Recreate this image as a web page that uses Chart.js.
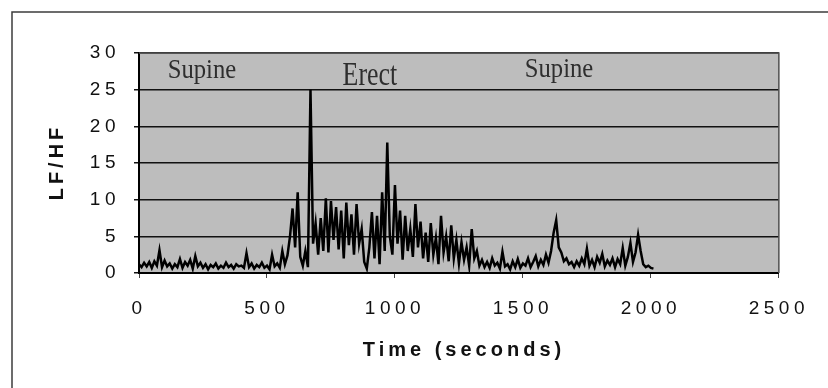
<!DOCTYPE html>
<html>
<head>
<meta charset="utf-8">
<title>LF/HF</title>
<script src="https://cdn.jsdelivr.net/npm/chart.js@4.4.1/dist/chart.umd.min.js"></script>
<style>
    html, body { margin: 0; padding: 0; background: #fff; }
    #wrap { position: relative; width: 828px; height: 388px; }
</style>
</head>
<body>
<div id="wrap"><canvas id="lfhfChart"></canvas></div>
<script>
// Thoi gian (giay) va ty so LF/HF
const timeSec = [
    0, 10, 20, 30, 40, 50, 60, 70, 80, 90,
    100, 110, 120, 130, 140, 150, 160, 170, 180, 190,
    200, 210, 220, 230, 240, 250, 260, 270, 280, 290,
    300, 310, 320, 330, 340, 350, 360, 370, 380, 390,
    400, 410, 420, 430, 440, 450, 460, 470, 480, 490,
    500, 510, 520, 530, 540, 550, 560, 570, 580, 590,
    600, 610, 620, 630, 640, 650, 660, 670, 680, 690,
    700, 710, 720, 730, 740, 750, 760, 770, 780, 790,
    800, 810, 820, 830, 840, 850, 860, 870, 880, 890,
    900, 910, 920, 930, 940, 950, 960, 970, 980, 990,
    1000, 1010, 1020, 1030, 1040, 1050, 1060, 1070, 1080, 1090,
    1100, 1110, 1120, 1130, 1140, 1150, 1160, 1170, 1180, 1190,
    1200, 1210, 1220, 1230, 1240, 1250, 1260, 1270, 1280, 1290,
    1300, 1310, 1320, 1330, 1340, 1350, 1360, 1370, 1380, 1390,
    1400, 1410, 1420, 1430, 1440, 1450, 1460, 1470, 1480, 1490,
    1500, 1510, 1520, 1530, 1540, 1550, 1560, 1570, 1580, 1590,
    1600, 1610, 1620, 1630, 1640, 1650, 1660, 1670, 1680, 1690,
    1700, 1710, 1720, 1730, 1740, 1750, 1760, 1770, 1780, 1790,
    1800, 1810, 1820, 1830, 1840, 1850, 1860, 1870, 1880, 1890,
    1900, 1910, 1920, 1930, 1940, 1950, 1960, 1970, 1980, 1990,
    2000, 2010
];

const lfhfRatio = [
    1.2, 0.8, 1.4, 0.9, 1.5, 0.7, 1.6, 1.0, 3.1, 0.8,
    1.7, 0.9, 1.3, 0.6, 1.2, 0.8, 1.9, 0.7, 1.5, 1.0,
    1.8, 0.6, 2.3, 0.9, 1.4, 0.7, 1.2, 0.5, 1.1, 0.8,
    1.3, 0.6, 1.0, 0.7, 1.4, 0.8, 1.1, 0.6, 1.2, 0.9,
    1.0, 0.7, 2.7, 0.8, 1.3, 0.6, 1.1, 0.8, 1.4, 0.7,
    1.0, 0.5, 2.5, 0.9, 1.3, 0.7, 3.0, 1.2, 2.4, 5.0,
    8.8, 3.5, 11.0, 2.2, 1.0, 3.0, 0.8, 25.0, 4.0, 6.8,
    2.5, 7.5, 3.0, 10.2, 2.8, 9.8, 4.5, 9.0, 3.2, 8.5,
    2.0, 9.6, 3.8, 8.0, 2.5, 9.4, 4.0, 6.0, 1.5, 0.6,
    3.5, 8.3, 2.0, 7.8, 1.2, 11.0, 3.0, 17.8, 5.0, 2.5,
    12.0, 4.0, 8.5, 1.8, 7.8, 3.0, 6.0, 2.2, 9.4, 3.5,
    7.0, 2.0, 5.5, 1.5, 6.8, 2.5, 4.8, 1.2, 7.8, 2.8,
    5.0, 1.6, 6.5, 2.0, 4.5, 1.3, 4.2, 1.8, 3.5, 1.0,
    6.0, 2.0, 3.0, 1.0, 1.8, 0.8, 1.5, 0.7, 2.0, 1.0,
    1.4, 0.6, 2.9, 0.9, 1.2, 0.5, 1.6, 0.8, 1.9, 0.7,
    1.3, 1.0, 2.0, 0.8, 1.5, 2.3, 0.9, 1.8, 1.1, 2.5,
    1.4, 3.0, 5.5, 7.2, 3.5, 2.8, 1.6, 2.0, 1.2, 1.5,
    0.8, 1.6, 1.0, 2.0, 1.2, 3.3, 1.0, 1.8, 0.8, 2.2,
    1.4, 2.6, 0.9, 1.7, 1.1, 2.0, 0.8, 1.9, 1.2, 3.4,
    1.0, 2.2, 4.1, 1.5, 2.8, 5.2, 3.0, 1.2, 0.8, 1.0,
    0.7, 0.6
];

// Nhan cac giai doan tu the
const phaseNames = ['Supine', 'Erect', 'Supine'];

const xTicks = [0, 500, 1000, 1500, 2000, 2500];
const yTicks = [0, 5, 10, 15, 20, 25, 30];

document.addEventListener("DOMContentLoaded", function () {
    const points = timeSec.map(function (t, i) {
        return { x: t, y: lfhfRatio[i] };
    });

    const SPACING = '4.5px';

    // Nen xam cua vung do thi, khung ngoai, tieu de truc va nhan giai doan
    const decorPlugin = {
        id: 'decor',
        // canvas bi reset khi doi kich thuoc nen dat lai letterSpacing moi lan
        beforeUpdate: function (chart) {
            chart.ctx.letterSpacing = SPACING;
        },
        beforeLayout: function (chart) {
            chart.ctx.letterSpacing = SPACING;
        },
        beforeDraw: function (chart) {
            const ctx = chart.ctx;
            const a = chart.chartArea;
            ctx.letterSpacing = SPACING;
            ctx.save();
            ctx.fillStyle = '#bdbdbd';
            ctx.fillRect(a.left, a.top, a.right - a.left, a.bottom - a.top);
            ctx.restore();
        },
        afterDraw: function (chart) {
            const ctx = chart.ctx;
            const a = chart.chartArea;
            const sx = chart.scales.x;
            const sy = chart.scales.y;
            ctx.save();

            // khung tren va phai cua vung do thi
            ctx.strokeStyle = '#505050';
            ctx.lineWidth = 1.5;
            ctx.beginPath();
            ctx.moveTo(a.left, a.top);
            ctx.lineTo(a.right, a.top);
            ctx.lineTo(a.right, a.bottom);
            ctx.stroke();

            // khung ngoai
            ctx.strokeStyle = '#3c3c3c';
            ctx.lineWidth = 1.5;
            ctx.beginPath();
            ctx.moveTo(12, 388);
            ctx.lineTo(12, 12);
            ctx.lineTo(828, 12);
            ctx.stroke();

            // tieu de truc
            ctx.fillStyle = '#111';
            ctx.font = 'bold 20px "Liberation Sans", Arial, sans-serif';
            ctx.letterSpacing = '4px';
            ctx.textAlign = 'center';
            ctx.textBaseline = 'middle';
            ctx.fillText('Time (seconds)', 464, 350);
            ctx.save();
            ctx.translate(57, 164);
            ctx.rotate(-Math.PI / 2);
            ctx.fillText('LF/HF', 2, 0);
            ctx.restore();

            // nhan giai doan
            const spots = [
                { t: 246, v: 26.6, size: 28, sx: 0.88 },
                { t: 902, v: 25.7, size: 34, sx: 0.76 },
                { t: 1641, v: 26.7, size: 28, sx: 0.88 }
            ];
            ctx.letterSpacing = '0px';
            ctx.fillStyle = '#2e2e2e';
            ctx.textBaseline = 'alphabetic';
            phaseNames.forEach(function (name, i) {
                const s = spots[i];
                ctx.save();
                ctx.translate(sx.getPixelForValue(s.t), sy.getPixelForValue(s.v));
                ctx.scale(s.sx, 1);
                ctx.font = s.size + 'px "Liberation Serif", "Times New Roman", serif';
                ctx.fillText(name, 0, 0);
                ctx.restore();
            });
            ctx.restore();
            ctx.letterSpacing = SPACING;
        }
    };

    const tickFont = { family: '"Liberation Sans", Arial, sans-serif', size: 19 };
    const plainNumber = function (value) { return String(value); };

    new Chart(document.getElementById('lfhfChart'), {
        type: 'line',
        data: {
            datasets: [{
                data: points,
                borderColor: '#000',
                borderWidth: 2.5,
                pointRadius: 0,
                tension: 0,
                fill: false
            }]
        },
        options: {
            responsive: true,
            maintainAspectRatio: false,
            animation: false,
            layout: { padding: { top: 53, right: 47, left: 0, bottom: 0 } },
            plugins: {
                legend: { display: false },
                tooltip: { enabled: false }
            },
            scales: {
                x: {
                    type: 'linear',
                    min: 0,
                    max: 2500,
                    afterFit: function (scale) { scale.height = 115; },
                    afterBuildTicks: function (scale) {
                        scale.ticks = xTicks.map(function (v) { return { value: v }; });
                    },
                    ticks: { color: '#111', font: tickFont, padding: 19, maxRotation: 0, callback: plainNumber },
                    grid: { drawOnChartArea: false, drawTicks: true, tickLength: 5, color: '#444', lineWidth: 1 },
                    border: { display: true, color: '#000', width: 2 }
                },
                y: {
                    min: 0,
                    max: 30,
                    afterFit: function (scale) { scale.width = 139; },
                    afterBuildTicks: function (scale) {
                        scale.ticks = yTicks.map(function (v) { return { value: v }; });
                    },
                    ticks: { color: '#111', font: tickFont, padding: 14, callback: plainNumber },
                    grid: { color: '#111', lineWidth: 1.5, tickLength: 5 },
                    border: { display: true, color: '#000', width: 2 }
                }
            }
        },
        plugins: [decorPlugin]
    });
});
</script>
</body>
</html>
